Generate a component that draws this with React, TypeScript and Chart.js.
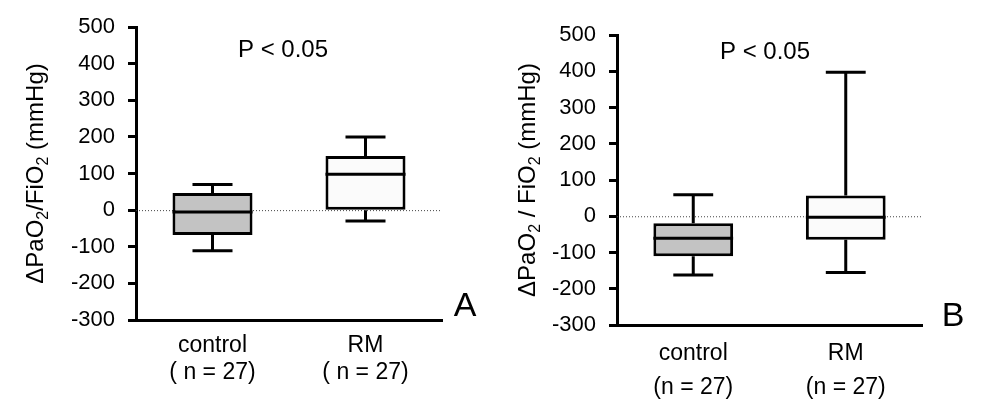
import React, { useEffect, useRef } from "react";
import { Chart, registerables } from "chart.js";

Chart.register(...registerables);

const categories = ["control", "RM"];
const nLabelsA = ["( n = 27)", "( n = 27)"];
const nLabelsB = ["(n = 27)", "(n = 27)"];
const yMin = -300;
const yMax = 500;
const yStep = 100;

// Panel A box-plot statistics
const aMin = [-111, -30];
const aQ1 = [-68, 0];
const aMedian = [-5, 98];
const aQ3 = [47, 148];
const aMax = [70, 200];

// Panel B box-plot statistics
const bMin = [-162, -155];
const bQ1 = [-110, -65];
const bMedian = [-61, -3];
const bQ3 = [-19, 57];
const bMax = [59, 397];

const boxColors = ["#c3c3c3", "#fbfbfb"];
const FONT = "'Liberation Sans', Arial, Helvetica, sans-serif";

type PanelProps = {
  left: number;
  mins: number[];
  q1: number[];
  med: number[];
  q3: number[];
  maxs: number[];
  nLabels: string[];
  titleParts: { t: string; sub?: boolean }[];
  letter: string;
  area: { left: number; right: number; top: number; bottom: number };
  titleX: number;
  pPos: [number, number];
  letterPos: [number, number];
  catLineHeight: number;
  catPadding: number;
};

function Panel(p: PanelProps) {
  const ref = useRef<HTMLCanvasElement | null>(null);
  useEffect(() => {
    if (!ref.current) return;
    const boxPlugin = {
      id: "boxExtras",
      beforeDatasetsDraw(chart: any) {
        const { ctx, chartArea, scales } = chart;
        const y0 = scales.y.getPixelForValue(0);
        ctx.save();
        ctx.strokeStyle = "#444";
        ctx.lineWidth = 1;
        ctx.setLineDash([1, 2]);
        ctx.beginPath();
        ctx.moveTo(chartArea.left, y0 + 0.5);
        ctx.lineTo(chartArea.right, y0 + 0.5);
        ctx.stroke();
        ctx.restore();
        const meta = chart.getDatasetMeta(0);
        const ys = scales.y;
        ctx.save();
        ctx.strokeStyle = "#000";
        ctx.lineWidth = 3;
        meta.data.forEach((el: any, i: number) => {
          const x = el.x;
          const half = el.width / 4;
          ctx.beginPath();
          ctx.moveTo(x, ys.getPixelForValue(p.q3[i]));
          ctx.lineTo(x, ys.getPixelForValue(p.maxs[i]));
          ctx.moveTo(x, ys.getPixelForValue(p.q1[i]));
          ctx.lineTo(x, ys.getPixelForValue(p.mins[i]));
          ctx.moveTo(x - half, ys.getPixelForValue(p.maxs[i]));
          ctx.lineTo(x + half, ys.getPixelForValue(p.maxs[i]));
          ctx.moveTo(x - half, ys.getPixelForValue(p.mins[i]));
          ctx.lineTo(x + half, ys.getPixelForValue(p.mins[i]));
          ctx.stroke();
        });
        ctx.restore();
      },
      afterDatasetsDraw(chart: any) {
        const { ctx, chartArea, scales } = chart;
        const meta = chart.getDatasetMeta(0);
        const ys = scales.y;
        ctx.save();
        ctx.strokeStyle = "#000";
        ctx.lineWidth = 3;
        meta.data.forEach((el: any, i: number) => {
          const x = el.x;
          const half = el.width / 2;
          const ym = ys.getPixelForValue(p.med[i]);
          ctx.beginPath();
          ctx.moveTo(x - half, ym);
          ctx.lineTo(x + half, ym);
          ctx.stroke();
        });
        ctx.restore();

        ctx.save();
        ctx.fillStyle = "#000";
        ctx.textAlign = "center";
        ctx.textBaseline = "middle";
        ctx.font = `24px ${FONT}`;
        ctx.fillText("P < 0.05", p.pPos[0], p.pPos[1]);
        ctx.font = `34px ${FONT}`;
        ctx.fillText(p.letter, p.letterPos[0], p.letterPos[1]);

        const cy = (chartArea.top + chartArea.bottom) / 2;
        const mainFont = `24px ${FONT}`;
        const subFont = `16px ${FONT}`;
        let total = 0;
        p.titleParts.forEach((part) => {
          ctx.font = part.sub ? subFont : mainFont;
          total += ctx.measureText(part.t).width;
        });
        ctx.translate(p.titleX, cy);
        ctx.rotate(-Math.PI / 2);
        ctx.textAlign = "left";
        ctx.textBaseline = "middle";
        let cx = -total / 2;
        p.titleParts.forEach((part) => {
          ctx.font = part.sub ? subFont : mainFont;
          ctx.fillText(part.t, cx, part.sub ? 8 : 0);
          cx += ctx.measureText(part.t).width;
        });
        ctx.restore();
      },
    };

    const W = 500;
    const H = 410;
    const chart = new Chart(ref.current, {
      type: "bar",
      data: {
        labels: categories.map((c, i) => [c, p.nLabels[i]]),
        datasets: [
          {
            data: p.q1.map((v, i) => [v, p.q3[i]]) as any,
            backgroundColor: boxColors,
            borderColor: "#000",
            borderWidth: 3,
            borderSkipped: false,
            barPercentage: 0.523,
            categoryPercentage: 1,
          },
        ],
      },
      options: {
        animation: false,
        responsive: false,
        maintainAspectRatio: false,
        events: [],
        layout: {
          padding: {
            left: 0,
            top: p.area.top,
            right: W - p.area.right,
            bottom: 0,
          },
        },
        plugins: {
          legend: { display: false },
          tooltip: { enabled: false },
        },
        scales: {
          x: {
            grid: { display: true, drawOnChartArea: false, drawTicks: false },
            border: { display: true, color: "#000", width: 3 },
            ticks: {
              color: "#000",
              font: { family: FONT, size: 23, lineHeight: p.catLineHeight },
              padding: p.catPadding,
              maxRotation: 0,
            },
            afterFit: (s: any) => {
              s.height = H - p.area.bottom;
            },
          },
          y: {
            min: yMin,
            max: yMax,
            grid: {
              display: true,
              drawOnChartArea: false,
              drawTicks: true,
              tickLength: 8,
              tickWidth: 3,
              tickColor: "#000",
            },
            border: { display: true, color: "#000", width: 3 },
            ticks: {
              stepSize: yStep,
              color: "#000",
              font: { family: FONT, size: 22 },
              padding: 13,
            },
            afterFit: (s: any) => {
              s.width = p.area.left;
            },
          },
        },
      },
      plugins: [boxPlugin],
    });
    return () => chart.destroy();
  }, []);
  return (
    <div style={{ position: "absolute", left: p.left, top: 0, width: 500, height: 410 }}>
      <canvas ref={ref} width={500} height={410} style={{ width: 500, height: 410, display: "block" }} />
    </div>
  );
}

export default function App() {
  return (
    <div style={{ position: "fixed", left: 0, top: 0, width: 1000, height: 410, background: "#fff", overflow: "hidden" }}>
      <Panel
        left={0}
        mins={aMin}
        q1={aQ1}
        med={aMedian}
        q3={aQ3}
        maxs={aMax}
        nLabels={nLabelsA}
        titleParts={[{ t: "ΔPaO" }, { t: "2", sub: true }, { t: "/FiO" }, { t: "2", sub: true }, { t: " (mmHg)" }]}
        letter="A"
        area={{ left: 136, right: 442, top: 27, bottom: 320 }}
        titleX={36}
        pPos={[283, 50]}
        letterPos={[465, 307]}
        catLineHeight={1.17}
        catPadding={12}
      />
      <Panel
        left={500}
        mins={bMin}
        q1={bQ1}
        med={bMedian}
        q3={bQ3}
        maxs={bMax}
        nLabels={nLabelsB}
        titleParts={[{ t: "ΔPaO" }, { t: "2", sub: true }, { t: " / FiO" }, { t: "2", sub: true }, { t: " (mmHg)" }]}
        letter="B"
        area={{ left: 117, right: 422, top: 35, bottom: 325 }}
        titleX={28}
        pPos={[265, 52]}
        letterPos={[453, 317]}
        catLineHeight={1.48}
        catPadding={12}
      />
    </div>
  );
}
